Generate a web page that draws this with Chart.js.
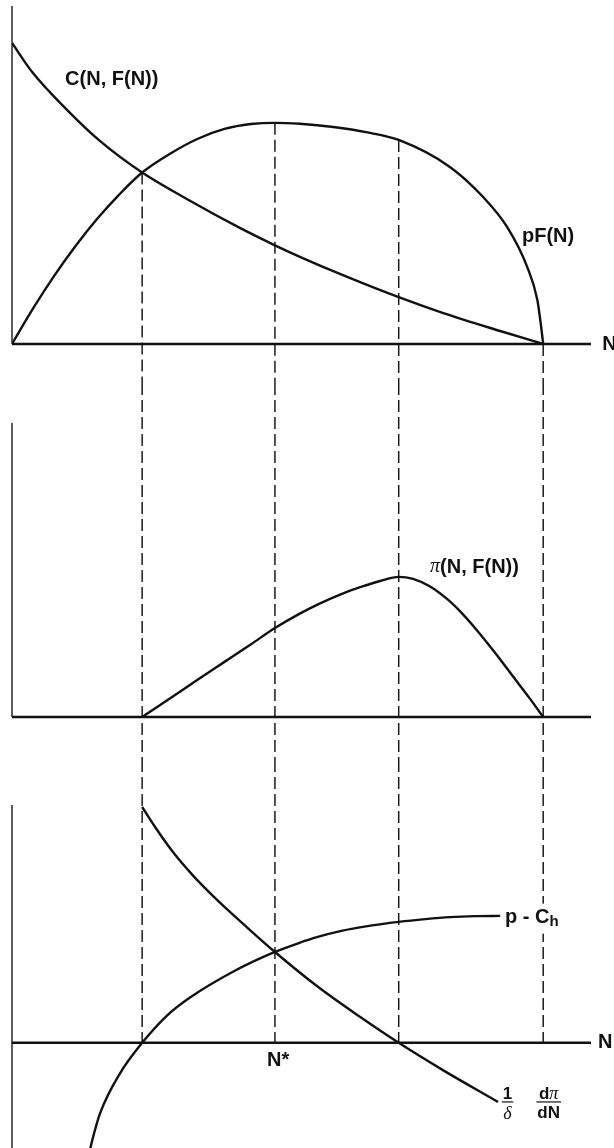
<!DOCTYPE html>
<html>
<head>
<meta charset="utf-8">
<script src="https://cdn.jsdelivr.net/npm/chart.js@4.4.1/dist/chart.umd.min.js"></script>
<style>
  html, body { margin: 0; padding: 0; background: #fff; }
  #wrap { position: relative; width: 614px; height: 1148px; overflow: hidden; }
  #wrap canvas { position: absolute; left: 0; }
</style>
</head>
<body>
<div id="wrap">
  <canvas id="upper" width="614" height="383" style="top:0px"></canvas>
  <canvas id="middle" width="614" height="377" style="top:383px"></canvas>
  <canvas id="lower" width="614" height="388" style="top:760px"></canvas>
</div>
<script>
// Stock size N on the shared horizontal axis (axis runs a little past K = 100)
const N_MAX = 109;
// Guide abscissae: C = pF crossing, pF maximum, N at the profit maximum, K
const guideN = [24.5, 49.5, 72.8, 100];

// Upper panel: cost curve C(N, F(N)) and revenue pF(N)
const costN    = [0, 3.95, 10.4, 16.6, 24.5, 33.5, 42.9, 49.5, 54.2, 62.3, 72.8, 81.2, 91.9, 100];
const costVal  = [12.29, 11.06, 9.55, 8.28, 7.0, 5.85, 4.74, 4.03, 3.56, 2.81, 1.91, 1.26, 0.53, 0];
const revenueN   = [0, 4, 8, 12, 16, 20, 24.5, 30, 35, 40, 45, 49.5, 54.2, 60.5, 66.9, 72.8, 82.5, 88.7, 93.2, 97.0, 98.9, 99.5, 100];
const revenueVal = [0, 1.46, 2.80, 4.01, 5.10, 6.06, 7.0, 7.80, 8.38, 8.78, 8.98, 9.03, 8.99, 8.86, 8.64, 8.33, 7.22, 6.0, 4.78, 3.14, 1.80, 0.9, 0];

// Middle panel: sustainable profit π(N, F(N))
const profitN   = [24.5, 30, 35, 40, 45, 49.5, 54, 58, 62, 66, 69.3, 72.8, 75.5, 78.7, 81.9, 84.9, 88.1, 91.3, 94.3, 97.5, 100];
const profitVal = [0, 0.80, 1.53, 2.25, 2.97, 3.63, 4.20, 4.64, 5.02, 5.33, 5.55, 5.72, 5.64, 5.33, 4.82, 4.19, 3.39, 2.52, 1.66, 0.75, 0];

// Lower panel: net price p - Ch and (1/δ) dπ/dN
const netPriceN   = [14.68, 15.06, 16.57, 20.33, 24.5, 29.18, 33.51, 41.6, 49.5, 54.2, 57.4, 62.0, 66.9, 72.8, 77.8, 82.5, 87.2, 91.9];
const netPriceVal = [-4.27, -3.93, -2.82, -1.22, 0, 1.09, 1.81, 2.84, 3.63, 4.0, 4.22, 4.47, 4.66, 4.83, 4.94, 5.02, 5.06, 5.07];
const marginalN   = [24.5, 27, 30.3, 34, 38.6, 44, 49.5, 57.4, 65.5, 72.8, 81.2, 91.5];
const marginalVal = [9.42, 8.60, 7.62, 6.70, 5.71, 4.66, 3.63, 2.27, 1.04, 0, -1.10, -2.36];

const SANS  = '"Liberation Sans", Arial, Helvetica, sans-serif';
const SERIF = '"Liberation Serif", "DejaVu Serif", serif';
const LABEL_FONT = 'bold 20px ' + SANS;

function points(ns, vals) {
  return ns.map((n, i) => ({ x: n, y: vals[i] }));
}
function valueAt(ns, vals, n) {
  return vals[ns.indexOf(n)];
}

// Draws a sequence of text runs starting at x, returns the end x
function drawRuns(ctx, runs, x, y) {
  runs.forEach(r => {
    ctx.font = r.font;
    ctx.fillText(r.text, x, y + (r.dy || 0));
    x += ctx.measureText(r.text).width;
  });
  return x;
}
function runsWidth(ctx, runs) {
  let w = 0;
  runs.forEach(r => { ctx.font = r.font; w += ctx.measureText(r.text).width; });
  return w;
}

const sketchPlugin = {
  id: 'sketch',
  beforeDatasetsDraw(chart, args, opts) {
    const ctx = chart.ctx, xs = chart.scales.x, ys = chart.scales.y;
    const x0 = xs.getPixelForValue(0);
    const y0 = ys.getPixelForValue(0);
    ctx.save();
    // dashed guides
    ctx.setLineDash([12, 5]);
    ctx.lineWidth = 1.5;
    ctx.strokeStyle = '#1c1c1c';
    (opts.guides || []).forEach(g => {
      const x = xs.getPixelForValue(g.n);
      const yA = g.from === null ? 0 : ys.getPixelForValue(g.from);
      const yB = g.to === null ? chart.height : ys.getPixelForValue(g.to);
      ctx.beginPath();
      ctx.moveTo(x, yA);
      ctx.lineTo(x, yB);
      ctx.stroke();
    });
    ctx.setLineDash([]);
    // vertical axis
    ctx.strokeStyle = '#5c5c5c';
    ctx.lineWidth = 2;
    ctx.beginPath();
    ctx.moveTo(x0, ys.getPixelForValue(ys.max));
    ctx.lineTo(x0, ys.getPixelForValue(ys.min));
    ctx.stroke();
    // horizontal axis at zero
    ctx.strokeStyle = '#111';
    ctx.lineWidth = 2.5;
    ctx.beginPath();
    ctx.moveTo(x0, y0);
    ctx.lineTo(xs.getPixelForValue(xs.max), y0);
    ctx.stroke();
    ctx.restore();
  },
  afterDatasetsDraw(chart, args, opts) {
    const ctx = chart.ctx, xs = chart.scales.x, ys = chart.scales.y;
    ctx.save();
    (opts.labels || []).forEach(l => {
      const x = xs.getPixelForValue(l.n);
      const y = ys.getPixelForValue(l.v);
      ctx.fillStyle = '#111';
      if (l.fraction) {
        const wn = runsWidth(ctx, l.num), wd = runsWidth(ctx, l.den);
        const w = Math.max(wn, wd);
        ctx.textBaseline = 'alphabetic';
        drawRuns(ctx, l.num, x + (w - wn) / 2, y - 3);
        ctx.textBaseline = 'top';
        drawRuns(ctx, l.den, x + (w - wd) / 2, y + 3);
        ctx.lineWidth = 1.2;
        ctx.strokeStyle = '#111';
        ctx.beginPath();
        ctx.moveTo(x - 1, y);
        ctx.lineTo(x + w + 1, y);
        ctx.stroke();
      } else {
        if (l.mask) {
          // keep the label clear of guides running behind it
          const w = runsWidth(ctx, l.runs);
          ctx.fillStyle = '#fff';
          ctx.fillRect(x - 2, y - 14, w + 4, 30);
          ctx.fillStyle = '#111';
        }
        ctx.textBaseline = 'middle';
        drawRuns(ctx, l.runs, x, y);
      }
    });
    ctx.restore();
  }
};

function makePanel(id, cfg) {
  return new Chart(document.getElementById(id), {
    type: 'line',
    data: {
      datasets: cfg.series.map(s => ({
        data: points(s[0], s[1]),
        borderColor: '#111',
        borderWidth: 2.4,
        pointRadius: 0,
        fill: false,
        cubicInterpolationMode: 'monotone'
      }))
    },
    options: {
      responsive: false,
      animation: false,
      devicePixelRatio: 1,
      events: [],
      layout: { padding: { left: 12, right: 23, top: cfg.top, bottom: cfg.bottom } },
      scales: {
        x: { type: 'linear', min: 0, max: N_MAX, display: false },
        y: { type: 'linear', min: cfg.yMin, max: cfg.yMax, display: false }
      },
      plugins: {
        legend: { display: false },
        tooltip: { enabled: false },
        sketch: { guides: cfg.guides, labels: cfg.labels }
      }
    },
    plugins: [sketchPlugin]
  });
}

// Upper panel
makePanel('upper', {
  top: 6, bottom: 39, yMin: 0, yMax: 13.8,
  series: [[costN, costVal], [revenueN, revenueVal]],
  guides: guideN.map(n => ({ n: n, from: valueAt(revenueN, revenueVal, n), to: null })),
  labels: [
    { n: 10.0, v: 10.78, runs: [{ text: 'C(N, F(N))', font: LABEL_FONT }] },
    { n: 96.0, v: 4.37, runs: [{ text: 'pF(N)', font: LABEL_FONT }] },
    { n: 111.1, v: 0, runs: [{ text: 'N', font: LABEL_FONT }] }
  ]
});

// Middle panel
makePanel('middle', {
  top: 40, bottom: 43, yMin: 0, yMax: 12,
  series: [[profitN, profitVal]],
  guides: guideN.map(n => ({ n: n, from: null, to: null })),
  labels: [
    { n: 78.7, v: 6.12, runs: [
      { text: 'π', font: 'italic 20px ' + SERIF },
      { text: '(N, F(N))', font: LABEL_FONT }
    ] }
  ]
});

// Lower panel
makePanel('lower', {
  top: 45, bottom: 0, yMin: -4.2, yMax: 9.5,
  series: [[netPriceN, netPriceVal], [marginalN, marginalVal]],
  guides: guideN.map(n => ({ n: n, from: null, to: 0 })),
  labels: [
    { n: 92.8, v: 5.0, mask: true, runs: [
      { text: 'p - C', font: LABEL_FONT },
      { text: 'h', font: 'bold 15px ' + SANS, dy: 4 }
    ] },
    { n: 48.0, v: -0.7, runs: [{ text: 'N*', font: LABEL_FONT }] },
    { n: 110.3, v: 0, runs: [{ text: 'N', font: LABEL_FONT }] },
    { n: 92.4, v: -2.36, fraction: true,
      num: [{ text: '1', font: 'bold 17px ' + SANS }],
      den: [{ text: 'δ', font: 'italic 18px ' + SERIF }] },
    { n: 98.9, v: -2.36, fraction: true,
      num: [{ text: 'd', font: 'bold 17px ' + SANS }, { text: 'π', font: 'italic 18px ' + SERIF }],
      den: [{ text: 'dN', font: 'bold 17px ' + SANS }] }
  ]
});
</script>
</body>
</html>
